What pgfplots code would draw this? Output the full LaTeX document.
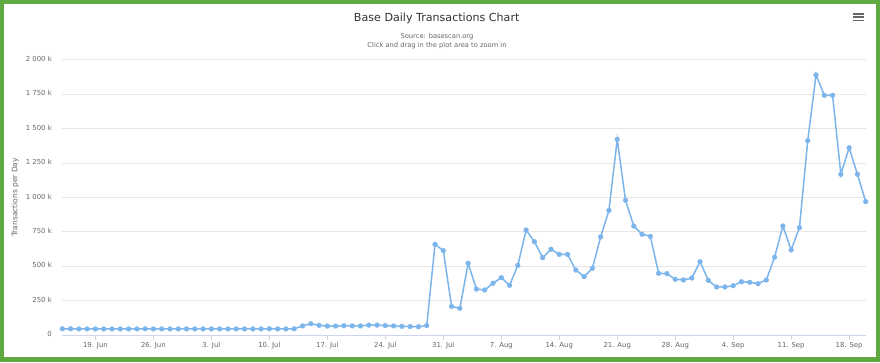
\documentclass[border=0pt]{standalone}
\usepackage{pgfplots}
\pgfplotsset{compat=1.18}
\usepackage{fontspec}
\setmainfont{DejaVu Sans}
\definecolor{hcblue}{HTML}{7CB5EC}
\definecolor{framegreen}{RGB}{96,168,66}
\definecolor{gridc}{HTML}{E6E6E6}
\definecolor{axc}{HTML}{CCD6EB}
\definecolor{labc}{HTML}{666666}
\definecolor{titc}{HTML}{333333}

\pgfplotstableread{
d v
0 45
1 45
2 44
3 44
4 44
5 44
6 44
7 44
8 44
9 44
10 45
11 44
12 44
13 44
14 44
15 44
16 44
17 44
18 44
19 44
20 44
21 44
22 44
23 44
24 44
25 45
26 44
27 44
28 45
29 66
30 82
31 70
32 65
33 65
34 68
35 66
36 66
37 72
38 72
39 68
40 66
41 63
42 61
43 60
44 68
45 659
46 613
47 208
48 194
49 521
50 334
51 327
52 376
53 417
54 361
55 506
56 763
57 678
58 562
59 623
60 586
61 586
62 472
63 424
64 485
65 713
66 906
67 1422
68 979
69 792
70 732
71 717
72 448
73 446
74 405
75 400
76 414
77 533
78 397
79 349
80 349
81 358
82 387
83 383
84 373
85 400
86 565
87 792
88 618
89 780
90 1412
91 1890
92 1742
93 1742
94 1168
95 1361
96 1168
97 969
}\txdata

\begin{document}
\begin{tikzpicture}[x=1pt,y=1pt]
\fill[framegreen] (0,0) rectangle (880,362);
\fill[white] (4,5) rectangle (876,358);
\begin{axis}[
  at={(62.3pt,27pt)}, anchor=south west,
  scale only axis, width=803.4pt, height=275.2pt,
  xmin=0, xmax=97, ymin=0, ymax=2000,
  clip=false,
  axis x line*=bottom,
  axis y line*=left,
  x axis line style={draw=axc, line width=0.8pt, -},
  y axis line style={draw=none},
  ymajorgrids,
  grid style={draw=gridc, line width=0.8pt},
  xtick={4,11,18,25,32,39,46,53,60,67,74,81,88,95},
  xticklabels={19. Jun,26. Jun,3. Jul,10. Jul,17. Jul,24. Jul,31. Jul,7. Aug,14. Aug,21. Aug,28. Aug,4. Sep,11. Sep,18. Sep},
  ytick={0,250,500,750,1000,1250,1500,1750,2000},
  yticklabels={0,250 k,500 k,750 k,1 000 k,1 250 k,1 500 k,1 750 k,2 000 k},
  tick align=outside,
  major tick length=5pt,
  xtick style={draw=axc, line width=0.8pt},
  ytick style={draw=none},
  typeset ticklabels with strut,
  ticklabel style={font=\fontsize{6.9}{8}\selectfont, text=labc},
  xticklabel style={yshift=1.5pt},
  yticklabel style={xshift=-2pt},
]
\addplot[hcblue, line width=1.5pt, mark=*, mark size=2.4pt, mark options={fill=hcblue, draw=hcblue, line width=0.3pt}] table[x=d, y=v] {\txdata};
\end{axis}
\node[rotate=90, font=\fontsize{7.5}{9}\selectfont, text=labc] at (15.3,164.6) {Transactions per Day};
\node[anchor=base, font=\fontsize{11.1}{13}\selectfont, text=titc] at (436.7,340.7) {Base Daily Transactions Chart};
\node[anchor=base, font=\fontsize{6.7}{8}\selectfont, text=labc] at (437,323.7) {Source: basescan.org};
\node[anchor=base, font=\fontsize{6.7}{8}\selectfont, text=labc] at (437,314) {Click and drag in the plot area to zoom in};
\draw[labc, line width=1.8pt] (853.3,348) -- (864.3,348);
\draw[labc, line width=1.8pt] (853.3,344.7) -- (864.3,344.7);
\draw[labc, line width=1.8pt] (853.3,341.4) -- (864.3,341.4);
\end{tikzpicture}
\end{document}
